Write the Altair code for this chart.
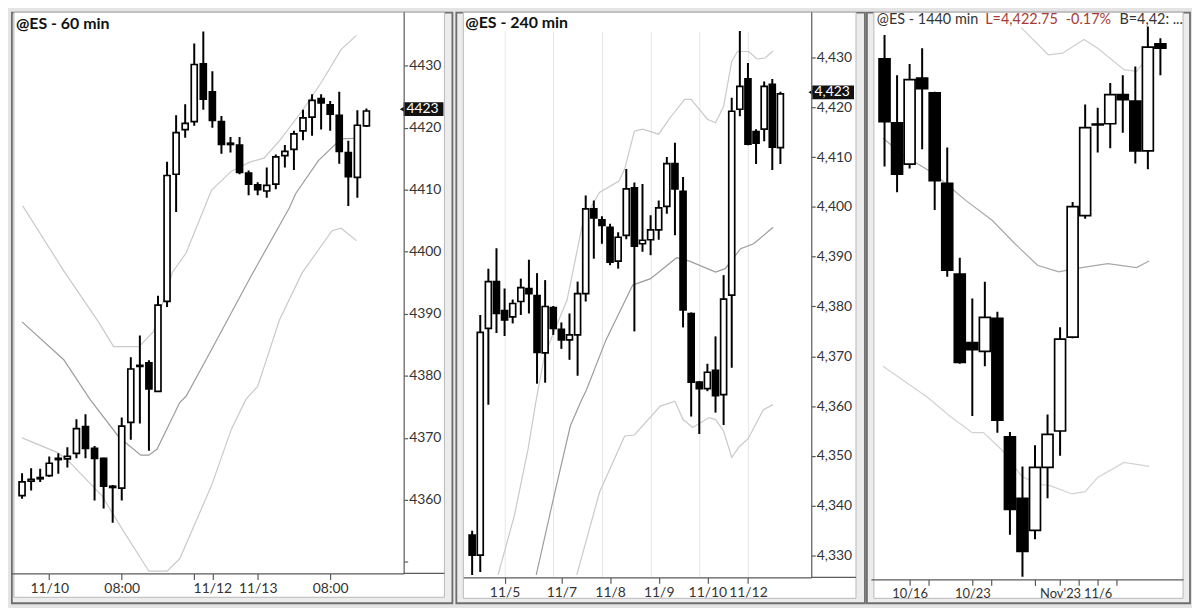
import json
import altair as alt
import pandas as pd

# ---------------- Panel 1 : @ES - 60 min ----------------
p1_title = "@ES - 60 min"
p1_open = [4360.7, 4363.0, 4363.4, 4363.9, 4366.5, 4366.6, 4367.5, 4371.8, 4368.3, 4366.7,
           4362.0, 4361.9, 4372.5, 4381.5, 4382.1, 4377.5, 4392.0, 4412.5, 4419.7, 4421.0,
           4430.3, 4425.8, 4421.0, 4417.3, 4417.2, 4412.7, 4410.8, 4409.8, 4410.9, 4415.5,
           4416.5, 4419.5, 4421.7, 4424.7, 4423.7, 4422.0, 4416.0, 4412.0, 4420.3]
p1_high = [4364.3, 4365.1, 4365.0, 4367.0, 4367.5, 4368.5, 4373.0, 4373.8, 4368.7, 4366.8,
           4362.4, 4373.3, 4383.0, 4386.5, 4382.5, 4392.9, 4414.5, 4422.0, 4423.8, 4433.6,
           4435.5, 4429.1, 4421.9, 4418.5, 4418.5, 4413.1, 4411.2, 4413.6, 4415.7, 4417.2,
           4419.5, 4422.9, 4425.4, 4425.4, 4424.3, 4425.8, 4417.9, 4422.8, 4423.1]
p1_low = [4360.2, 4361.5, 4362.9, 4363.7, 4364.2, 4365.2, 4366.7, 4366.7, 4359.9, 4358.6,
          4356.3, 4359.9, 4369.7, 4372.3, 4367.9, 4377.4, 4391.1, 4406.4, 4418.4, 4420.3,
          4422.9, 4420.0, 4415.8, 4416.0, 4412.5, 4409.1, 4409.1, 4408.7, 4410.1, 4413.6,
          4413.2, 4418.0, 4418.7, 4419.7, 4419.5, 4414.2, 4407.4, 4408.7, 4420.1]
p1_close = [4362.9, 4363.3, 4363.6, 4365.9, 4366.7, 4367.0, 4371.5, 4368.3, 4366.7, 4362.2,
            4362.2, 4371.9, 4381.1, 4381.7, 4377.9, 4391.4, 4412.3, 4419.2, 4420.7, 4430.2,
            4424.6, 4421.2, 4417.3, 4417.5, 4412.8, 4410.9, 4410.0, 4410.7, 4415.3, 4416.2,
            4419.0, 4421.6, 4424.4, 4424.0, 4422.2, 4416.2, 4412.1, 4420.4, 4422.7]
p1_up_x = [1.07, 5.57, 9.52, 11.1, 13.9, 15.5, 17.6, 19.1, 21.9, 24.1, 26.2, 27.7, 29.4, 31.9, 34.1, 36.2, 37.9]
p1_up_v = [4407.4, 4397.0, 4388.5, 4384.7, 4384.7, 4387.1, 4396.7, 4399.8, 4409.9, 4413.0, 4414.5,
           4415.1, 4417.9, 4422.7, 4427.5, 4432.6, 4434.9]
p1_mid_x = [1, 5.6, 8.5, 11.7, 14.1, 15, 15.9, 18.4, 19.1, 21.9, 26.2, 30.5, 31.2, 33.7, 36.2, 37.9]
p1_mid_v = [4388.7, 4382.6, 4376.2, 4370.1, 4367.2, 4367.2, 4368.2, 4375.7, 4376.7, 4384.2, 4395.9,
            4407.1, 4409.4, 4414.7, 4418.2, 4418.3]
p1_lo_x = [1, 4.8, 5.9, 9.8, 12, 15, 17, 18.4, 21.9, 24.1, 25.7, 27, 29.4, 31.9, 35.2, 36.2, 37.9]
p1_lo_v = [4370.0, 4367.7, 4366.6, 4360.7, 4355.4, 4348.5, 4348.5, 4350.5, 4362.3, 4371.4, 4376.2,
           4378.3, 4389.0, 4396.6, 4403.4, 4403.8, 4401.8]
p1_xtick_pos = [4, 12, 20, 22, 27, 35]
p1_xtick_lab = ["11/10", "08:00", "", "11/12", "11/13", "08:00"]
p1_yticks = [4350, 4360, 4370, 4380, 4390, 4400, 4410, 4420, 4430]
p1_yhidden = [4350]
p1_last = 4423
p1_last_lab = "4423"

# ---------------- Panel 2 : @ES - 240 min ----------------
p2_title = "@ES - 240 min"
p2_open = [4334.1, 4330.1, 4375.6, 4385.0, 4379.2, 4377.9, 4381.0, 4383.6, 4382.2, 4370.7,
           4379.8, 4375.4, 4373.3, 4374.3, 4382.6, 4399.6, 4397.4, 4395.9, 4389.1, 4394.3,
           4403.8, 4392.6, 4393.4, 4395.4, 4400.1, 4408.7, 4403.1, 4378.6, 4364.8, 4363.5,
           4367.2, 4362.3, 4382.3, 4419.6, 4425.7, 4415.1, 4415.6, 4424.6, 4411.9]
p2_high = [4335.0, 4378.3, 4387.6, 4391.7, 4383.6, 4381.4, 4385.6, 4389.4, 4386.7, 4385.3,
           4380.1, 4376.8, 4378.6, 4385.0, 4402.3, 4401.3, 4398.1, 4396.6, 4394.9, 4407.6,
           4404.9, 4404.6, 4398.3, 4401.3, 4410.0, 4412.9, 4406.0, 4378.8, 4365.0, 4368.5,
           4374.0, 4386.3, 4421.9, 4435.3, 4428.9, 4415.6, 4425.2, 4425.7, 4423.1]
p2_low = [4326.1, 4326.7, 4360.3, 4374.7, 4374.1, 4376.6, 4378.3, 4378.6, 4364.5, 4364.7,
          4374.3, 4371.5, 4369.3, 4366.1, 4381.0, 4389.6, 4392.6, 4388.3, 4387.6, 4393.5,
          4375.0, 4391.0, 4390.3, 4393.4, 4398.6, 4394.3, 4375.8, 4357.9, 4354.4, 4363.0,
          4358.7, 4356.2, 4367.7, 4418.2, 4412.4, 4408.6, 4413.2, 4407.4, 4408.6]
p2_close = [4330.1, 4374.8, 4385.0, 4378.6, 4377.3, 4380.6, 4383.8, 4382.6, 4370.8, 4380.0,
            4375.6, 4373.3, 4374.3, 4382.6, 4399.6, 4397.8, 4396.3, 4388.9, 4393.9, 4403.6,
            4392.1, 4393.3, 4395.4, 4399.8, 4408.7, 4403.6, 4379.3, 4364.8, 4363.5, 4366.8,
            4362.1, 4381.5, 4419.2, 4424.2, 4412.6, 4412.8, 4424.2, 4412.0, 4422.7]
p2_up_x = [4.2, 6.2, 7.9, 8.9, 9.9, 11.1, 12.7, 14.7, 16.7, 19.1, 19.8, 21, 22, 24, 25.4, 27.2, 28,
           30, 31, 32, 33, 33.7, 35.1, 36.1, 37.1, 38.1]
p2_up_v = [4326.1, 4338.0, 4351.4, 4361.3, 4370.0, 4375.0, 4381.3, 4397.3, 4402.9, 4405.2, 4407.6,
           4415.2, 4415.6, 4414.6, 4417.9, 4421.6, 4421.6, 4417.6, 4416.9, 4420.2, 4429.2, 4431.2,
           4431.2, 4429.7, 4429.9, 4431.3]
p2_mid_x = [8.9, 11.1, 13.1, 14.5, 15.1, 17.5, 20.8, 23, 26.2, 27.8, 31, 32.2, 34.1, 35.7, 38.1]
p2_mid_v = [4326.1, 4342.0, 4356.0, 4361.3, 4363.3, 4373.3, 4384.3, 4385.6, 4389.8, 4389.1, 4386.9,
            4387.6, 4391.6, 4392.6, 4395.9]
p2_lo_x = [13.9, 16.7, 19.8, 21, 24.2, 26, 27, 28.2, 30.2, 31, 32, 33, 34, 35, 36.9, 38.1]
p2_lo_v = [4326.1, 4342.7, 4354.0, 4354.2, 4360.0, 4361.0, 4357.3, 4355.7, 4357.7, 4357.3, 4355.0,
           4349.7, 4352.0, 4353.4, 4359.3, 4360.3]
p2_grid = [5.08, 11.04, 17.07, 23.1, 29.06, 35.05]
p2_xtick_pos = [5, 12, 18, 24, 30, 35]
p2_xtick_lab = ["11/5", "11/7", "11/8", "11/9", "11/10", "11/12"]
p2_yticks = [4330, 4340, 4350, 4360, 4370, 4380, 4390, 4400, 4410, 4420, 4430]
p2_last = 4423
p2_last_lab = "4,423"

# ---------------- Panel 3 : @ES - 1440 min ----------------
p3_title = ["@ES - 1440 min", "L=4,422.75", "-0.17%", "B=4,42: ..."]
p3_open = [4416.4, 4377.8, 4352.8, 4404.8, 4395.8, 4341.2, 4286.4, 4245.2, 4239.8, 4259.8,
           4188.2, 4151.2, 4131.8, 4169.8, 4191.8, 4248.4, 4321.8, 4376.5, 4377.2, 4394.8,
           4390.8, 4360.8, 4425.4]
p3_high = [4430.8, 4406.4, 4413.2, 4422.8, 4396.5, 4362.8, 4296.4, 4271.8, 4281.8, 4263.8,
           4191.2, 4170.4, 4183.2, 4201.8, 4254.4, 4330.0, 4388.8, 4386.8, 4401.8, 4406.4,
           4411.8, 4435.8, 4428.8]
p3_low = [4351.4, 4335.8, 4350.2, 4361.8, 4325.2, 4284.8, 4232.4, 4200.8, 4230.8, 4190.8,
          4129.2, 4103.9, 4126.4, 4151.2, 4176.8, 4247.8, 4319.8, 4359.8, 4362.4, 4371.8,
          4353.2, 4349.8, 4406.4]
p3_close = [4378.4, 4346.8, 4403.8, 4398.4, 4342.8, 4288.8, 4233.2, 4240.8, 4260.4, 4198.4,
            4144.4, 4119.2, 4169.8, 4189.8, 4247.2, 4327.2, 4374.8, 4377.0, 4394.8, 4391.8,
            4360.8, 4423.4, 4422.75]
p3_up_x = [11.9, 14.05, 15.2, 16.9, 18.0, 20.1, 21.1, 21.9]
p3_up_v = [4435.2, 4418.8, 4419.8, 4428.1, 4422.75, 4409.8, 4408.8, 4416.8]
p3_mid_x = [0.87, 2.4, 4.97, 7.5, 9.6, 11.4, 13.2, 14.9, 16.2, 18.8, 21.1, 22.1]
p3_mid_v = [4368.6, 4358.8, 4346.8, 4330.8, 4318.8, 4304.8, 4291.8, 4287.8, 4289.8, 4292.8, 4290.4, 4294.4]
p3_lo_x = [0.87, 2.4, 4.45, 6.2, 8.0, 8.9, 10.3, 11.9, 13.1, 14.2, 15.95, 17.0, 18.0, 20.1, 22.1]
p3_lo_v = [4230.8, 4222.8, 4212.0, 4200.8, 4190.8, 4190.8, 4180.8, 4164.8, 4159.8, 4158.8, 4153.8,
           4155.2, 4163.8, 4172.8, 4170.4]
p3_xtick_pos = [3, 4.5, 8, 9.5, 13, 15, 16.5, 18, 19.5]
p3_xtick_lab = ["10/16", "", "10/23", "", "", "Nov'23", "", "11/6", ""]

FONT = "Lato"
AX = "#5a5a5a"
LAB = "#333333"
LIGHT = "#c9c9c9"
MID = "#9c9c9c"
FRAME = "#6e6e6e"


def label_expr(pos, lab):
    parts = [f"datum.value == {p} ? {json.dumps(l)}" for p, l in zip(pos, lab)]
    return " : ".join(parts) + " : ''"


def candles_df(o, h, l, c):
    return pd.DataFrame({
        "idx": list(range(1, len(o) + 1)), "open": o, "high": h, "low": l, "close": c,
        "dir": ["up" if cc >= oo else "down" for oo, cc in zip(o, c)],
    })


def make_yaxis(values, fmt, hidden):
    if values is None:
        return None
    expr = "datum.label"
    if hidden:
        expr = " || ".join(f"datum.value == {v}" for v in hidden) + " ? '' : datum.label"
    return alt.Axis(orient="right", values=values, format=fmt, labelExpr=expr, tickSize=4,
                    tickColor=AX, domainColor=AX, domainWidth=1.2, tickWidth=1.2, labelColor=LAB,
                    labelFont=FONT, labelFontSize=14, labelPadding=1, labelOverlap=False,
                    labelFlush=False, grid=False, title=None, zindex=2)


def make_xaxis(xtp, xtl, size=14):
    return alt.Axis(values=xtp, labelExpr=label_expr(xtp, xtl), tickSize=6, tickColor=AX,
                    domainColor=AX, domainWidth=1.2, tickWidth=1.2, labelColor=LAB,
                    labelFont=FONT, labelFontSize=size, labelPadding=2, labelOverlap=False,
                    labelFlush=False, grid=False, title=None, zindex=2)


def title_layer(text, x, y, bold=True, color="#111111", size=16):
    return alt.Chart(pd.DataFrame({"t": [text]})).mark_text(
        align="left", baseline="middle", font=FONT, fontSize=size,
        fontWeight="bold" if bold else "normal", color=color).encode(
        x=alt.value(x), y=alt.value(y), text="t:N")


def axis_ext(x1, x2, y):
    return alt.Chart(pd.DataFrame({"a": [0]})).mark_rule(color=AX, strokeWidth=1.2).encode(
        x=alt.value(x1), x2=alt.value(x2), y=alt.value(y))


def frame_rect(x1, x2, y1, y2, fill, stroke, sw):
    return alt.Chart(pd.DataFrame({"a": [0]})).mark_rect(fill=fill, stroke=stroke, strokeWidth=sw).encode(
        x=alt.value(x1), x2=alt.value(x2), y=alt.value(y1), y2=alt.value(y2))


def panel(o, h, l, c, bands, xdom, ydom, w, hgt, bw, xaxis, yaxis, box, frame,
          grid=None, tag=None, titles=(), ext=None):
    xs = alt.Scale(domain=xdom, nice=False, zero=False)
    ys = alt.Scale(domain=ydom, nice=False, zero=False)

    def X(f):
        return alt.X(f, scale=xs, axis=xaxis)

    def Y(f):
        return alt.Y(f, scale=ys, axis=yaxis)

    df = candles_df(o, h, l, c)
    layers = [frame_rect(*frame, "#ececec", FRAME, 1.8),
              frame_rect(*box, "white", "#b8b8b8", 1)]
    if grid is not None:
        layers.append(alt.Chart(pd.DataFrame({"g": grid})).mark_rule(color="#e6e6e6", strokeWidth=1).encode(
            x=X("g:Q"), y=alt.value(20), y2=alt.value(hgt)))
    for bx, bv, col in bands:
        bdf = pd.DataFrame({"x": bx, "v": bv})
        layers.append(alt.Chart(bdf).mark_line(clip=True, strokeWidth=1.2, color=col).encode(
            x=X("x:Q"), y=Y("v:Q")))
    layers.append(alt.Chart(df).mark_rule(color="black", strokeWidth=2, clip=True).encode(
        x=X("idx:Q"), y=Y("low:Q"), y2="high:Q"))
    layers.append(alt.Chart(df).mark_bar(width=bw, stroke="black", strokeWidth=1.7, orient="vertical").encode(
        x=X("idx:Q"), y=Y("open:Q"), y2="close:Q",
        fill=alt.Fill("dir:N", scale=alt.Scale(domain=["up", "down"], range=["white", "black"]), legend=None)))
    layers.extend(titles)
    if ext is not None:
        layers.append(axis_ext(*ext))
    if tag is not None:
        price, lab, xc, tw, xtext, xtri = tag
        d = pd.DataFrame({"p": [price], "t": [lab]})
        layers.append(alt.Chart(d).mark_point(shape="triangle-left", filled=True, size=45,
                                              color="#111111", opacity=1).encode(x=alt.value(xtri), y=Y("p:Q")))
        layers.append(alt.Chart(d).mark_tick(orient="horizontal", size=tw, thickness=14,
                                             color="#111111", opacity=1).encode(x=alt.value(xc), y=Y("p:Q")))
        layers.append(alt.Chart(d).mark_text(color="white", font=FONT, fontSize=14, align="center",
                                             baseline="middle").encode(x=alt.value(xtext), y=Y("p:Q"), text="t:N"))
    return alt.layer(*layers).properties(width=w, height=hgt)


# Panel 1
p1 = panel(p1_open, p1_high, p1_low, p1_close,
           [(p1_up_x, p1_up_v, LIGHT), (p1_mid_x, p1_mid_v, MID), (p1_lo_x, p1_lo_v, LIGHT)],
           [0.326, 42.56], [4348.14, 4438.70], 395, 565, 6,
           make_xaxis(p1_xtick_pos, p1_xtick_lab), make_yaxis(p1_yticks, "d", p1_yhidden),
           (3, 436, 0.5, 589), (0.9, 444, 0.9, 595),
           tag=(p1_last, p1_last_lab, 415, 40, 414, 394),
           titles=[title_layer(p1_title, 5, 12)], ext=(395, 436, 565))

# Panel 2
p2 = panel(p2_open, p2_high, p2_low, p2_close,
           [(p2_up_x, p2_up_v, LIGHT), (p2_mid_x, p2_mid_v, MID), (p2_lo_x, p2_lo_v, LIGHT)],
           [0.524, 42.19], [4325.61, 4439.18], 350, 569, 6,
           make_xaxis(p2_xtick_pos, p2_xtick_lab), make_yaxis(p2_yticks, ",d", []),
           (0, 395, 0.5, 590), (-7, 404, 0.9, 595), grid=p2_grid,
           tag=(p2_last, p2_last_lab, 372, 42, 371, 350),
           titles=[title_layer(p2_title, 2, 11)], ext=(350, 395, 569))

# Panel 3
p3_titles = [
    title_layer(p3_title[0], 6, 8, bold=False, color="#333333", size=14.5),
    title_layer(p3_title[1], 115, 8, bold=False, color="#a63a36", size=14.5),
    title_layer(p3_title[2], 196, 8, bold=False, color="#a63a36", size=14.5),
    title_layer(p3_title[3], 250, 8, bold=False, color="#333333", size=14.5),
]
p3 = panel(p3_open, p3_high, p3_low, p3_close,
           [(p3_up_x, p3_up_v, "#cfcfcf"), (p3_mid_x, p3_mid_v, "#a8a8a8"), (p3_lo_x, p3_lo_v, "#d2d2d2")],
           [0.309, 24.41], [4102.24, 4444.77], 314, 571, 11,
           make_xaxis(p3_xtick_pos, p3_xtick_lab, size=13), None,
           (3, 314, 0.5, 590), (-4, 321, 0.9, 595), titles=p3_titles)

chart = alt.hconcat(p1, p2, p3, spacing=60, bounds="flush").properties(
    padding={"left": 3, "top": 2, "right": 1, "bottom": 2},
    background="#e4e4e4",
).configure_view(stroke=None)

chart.save("out.html", embed_options={"renderer": "svg", "actions": False})
